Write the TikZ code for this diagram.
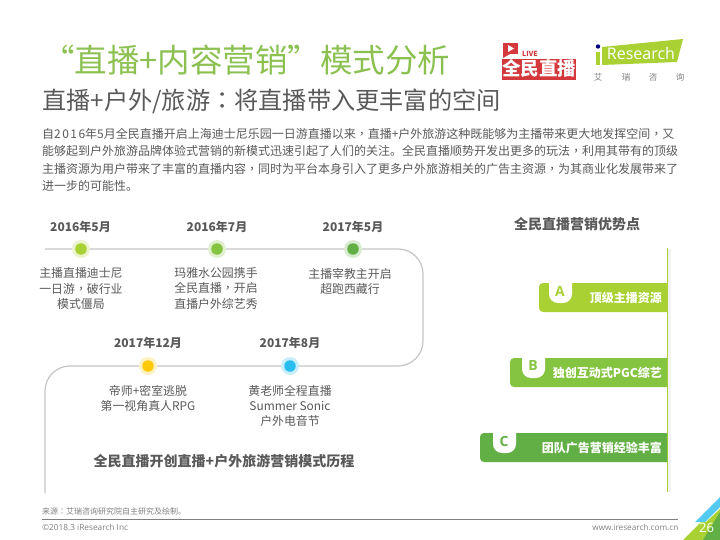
\documentclass[tikz,border=0pt]{standalone}
\usepackage{fontspec}
\setmainfont{Noto Sans CJK SC}
\newfontfamily\latinfont{Open Sans}
\newfontfamily\tcfont{Noto Sans CJK TC}
\usetikzlibrary{calc}
\newcommand{\midcomma}{{\tcfont ，}}
\newcommand{\midcolon}{{\tcfont ：}}
\newcommand{\widedigits}[1]{{\addfontfeature{LetterSpace=12}#1}}
\definecolor{titlegreen}{HTML}{8CC152}
\definecolor{inkgray}{HTML}{595959}
\definecolor{linegray}{HTML}{C4C4C4}
\definecolor{greenA}{HTML}{A9D134}
\definecolor{greenB}{HTML}{85C441}
\definecolor{greenC}{HTML}{62AF45}
\definecolor{dotyellow}{HTML}{FFC90A}
\definecolor{dotblue}{HTML}{29BDEF}
\definecolor{logored}{HTML}{D2383C}
\tikzset{
    datelabel/.style={text=inkgray, font=\bfseries\fontsize{12}{13}\selectfont},
    eventlabel/.style={text=inkgray, align=center, font=\fontsize{11.9}{15.2}\selectfont},
    bodyline/.style={text=inkgray, anchor=west, inner sep=0pt, font=\fontsize{12}{12}\selectfont},
    headlabel/.style={text=inkgray, font=\bfseries\fontsize{14}{15}\selectfont},
    barlabel/.style={text=white, anchor=east, inner sep=0pt, font=\bfseries\fontsize{12}{13}\selectfont},
    letterlabel/.style={inner sep=0pt, font=\bfseries\fontsize{14}{14}\selectfont\latinfont},
    halo/.style={circle, minimum size=18pt, inner sep=0pt, fill=#1!25!white},
    dot/.style={circle, minimum size=11.5pt, inner sep=0pt, fill=#1},
    timeline/.style={draw=linegray, line width=1.2pt, rounded corners=25pt},
}
\begin{document}
\begin{tikzpicture}[x=1pt, y=-1pt]
    \useasboundingbox (0, 0) rectangle (720, 540);

    % titles
    \node[text=titlegreen, anchor=west, inner sep=0pt, font=\fontsize{32.5}{33}\selectfont] (title) at (42, 60) {“直播+内容营销”模式分析};
    \node[text=inkgray, anchor=west, inner sep=0pt, font=\fontsize{24.2}{26}\selectfont] (subtitle) at (42, 101) {直播+户外/旅游\midcolon 将直播带入更丰富的空间};

    % live logo
    \fill[logored] (503, 43) rectangle (518, 54);
    \fill[logored] (503, 54) -- (510, 54) -- (503, 58) -- cycle;
    \fill[white] (508, 45) -- (514, 48.5) -- (508, 52) -- cycle;
    \node[text=logored, inner sep=0pt, font=\bfseries\fontsize{7}{7}\selectfont] (livetag) at (530, 54) {LIVE};
    \fill[logored] (502, 59) rectangle (576, 80);
    \node[text=white, inner sep=0pt, font=\bfseries\fontsize{18.5}{19}\selectfont] (livename) at (539, 68) {全民直播};

    % iresearch logo
    \fill[greenA] (602, 47) -- (683, 39) -- (677, 62) -- (602, 65) -- cycle;
    \fill[greenA] (596, 52) rectangle (600, 65);
    \fill[blue!50!black] (598, 46.5) circle (2.2);
    \node[text=white, inner sep=0pt, font=\fontsize{16}{16}\selectfont\latinfont] (irname) at (641, 53.5) {Research};
    \foreach \x/\c in {598/艾, 626/瑞, 653/咨, 680/询} {
        \node[text=gray, inner sep=0pt, font=\fontsize{8.5}{9}\selectfont] (ir\x) at (\x, 77) {\c};
    }

    % body text
    \node[bodyline] (body1) at (42, 134) {自\widedigits{2016}年\widedigits{5}月全民直播开启上海迪士尼乐园一日游直播以来\midcomma 直播\widedigits{+}户外旅游这种既能够为主播带来更大地发挥空间\midcomma 又};
    \node[bodyline] (body2) at (42, 151) {能够起到户外旅游品牌体验式营销的新模式迅速引起了人们的关注。全民直播顺势开发出更多的玩法\midcomma 利用其带有的顶级};
    \node[bodyline] (body3) at (42, 169) {主播资源为用户带来了丰富的直播内容\midcomma 同时为平台本身引入了更多户外旅游相关的广告主资源\midcomma 为其商业化发展带来了};
    \node[bodyline] (body4) at (42, 186) {进一步的可能性。};

    % timeline
    \coordinate (start) at (45, 249);
    \coordinate (end) at (45, 493);
    \node[halo=greenA] (may16) at (81, 249) {};
    \node[halo=greenB] (jul16) at (217, 249) {};
    \node[halo=greenC] (may17) at (353, 249) {};
    \node[halo=dotblue] (aug17) at (290, 366) {};
    \node[halo=dotyellow] (dec17) at (148, 366) {};
    \draw[timeline] (start) -- (may16) -- (jul16) -- (may17) -- (423, 249) -- (423, 366) -- (aug17) -- (dec17) -- (45, 366) -- (end);
    \node[dot=greenA] (may16dot) at (may16) {};
    \node[dot=greenB] (jul16dot) at (jul16) {};
    \node[dot=greenC] (may17dot) at (may17) {};
    \node[dot=dotblue] (aug17dot) at (aug17) {};
    \node[dot=dotyellow] (dec17dot) at (dec17) {};

    \node[datelabel] (date1) at (80.5, 227) {2016年5月};
    \node[datelabel] (date2) at (217, 227) {2016年7月};
    \node[datelabel] (date3) at (353, 227) {2017年5月};
    \node[datelabel] (date4) at (148, 343) {2017年12月};
    \node[datelabel] (date5) at (290, 343) {2017年8月};

    \node[eventlabel] (event1) at (81, 288.5) {主播直播迪士尼\\一日游\midcomma 破行业\\模式僵局};
    \node[eventlabel] (event2) at (216, 288.5) {玛雅水公园携手\\全民直播\midcomma 开启\\直播户外综艺秀};
    \node[eventlabel] (event3) at (350, 281.5) {主播宰教主开启\\超跑西藏行};
    \node[eventlabel] (event4) at (148, 398.5) {帝师+密室逃脱\\第一视角真人RPG};
    \node[eventlabel] (event5) at (290, 406) {黄老师全程直播\\Summer Sonic\\户外电音节};
    \node[headlabel] (timehead) at (224, 461) {全民直播开创直播+户外旅游营销模式历程};

    % advantages
    \node[headlabel] (advhead) at (577, 224) {全民直播营销优势点};
    \fill[black!5] (668, 249) rectangle (671, 492);
    \coordinate (railtop) at (667, 248);
    \coordinate (railend) at (667, 492);
    \draw[greenA, line width=0.8pt] (railtop) -- (railend);
    \foreach \name/\barx/\bary/\tabx/\c/\t/\lbl in {
        barA/539/283/549/greenA/A/顶级主播资源,
        barB/510/358/522/greenB/B/独创互动式PGC综艺,
        barC/480/433/493/greenC/C/团队广告营销经验丰富} {
        \fill[\c] (667, \bary) {[rounded corners=4pt] -- (\barx, \bary) -- (\barx, \bary+29)} -- (667, \bary+29) -- cycle;
        \fill[white] (\tabx, \bary) {[rounded corners=9pt] -- (\tabx, \bary+20) -- (\tabx+23, \bary+20)} -- (\tabx+23, \bary) -- cycle;
        \node[barlabel] (\name) at (662, \bary+15) {\lbl};
        \node[letterlabel, text=\c] (\name tab) at (\tabx+11, \bary+8) {\t};
    }

    % footer
    \node[text=gray, anchor=west, inner sep=0pt, font=\fontsize{8}{9}\selectfont] (source) at (42, 511) {来源\midcolon 艾瑞咨询研究院自主研究及绘制。};
    \coordinate (ruleleft) at (42, 519.5);
    \coordinate (ruleright) at (678, 519.5);
    \draw[gray, line width=0.7pt] (ruleleft) -- (ruleright);
    \node[text=gray, anchor=west, inner sep=0pt, font=\fontsize{8.3}{9}\selectfont\latinfont] (copyright) at (42, 527.5) {©2018.3 iResearch Inc};
    \node[text=gray, anchor=east, inner sep=0pt, font=\fontsize{8.2}{9}\selectfont\latinfont] (website) at (678.5, 527) {www.iresearch.com.cn};

    % corner
    \fill[dotblue!80!white] (695, 522) -- (720, 497) -- (720, 507) -- (705, 522) -- cycle;
    \fill[greenA] (683, 540) -- (701, 522) -- (706, 522) -- (720, 509) -- (720, 540) -- cycle;
    \fill[greenC] (720, 512) -- (720, 540) -- (703, 540) -- cycle;
    \node[text=white, inner sep=0pt, font=\fontsize{13}{13}\selectfont\latinfont] (pagenum) at (706.5, 527.5) {26};
\end{tikzpicture}
\end{document}
